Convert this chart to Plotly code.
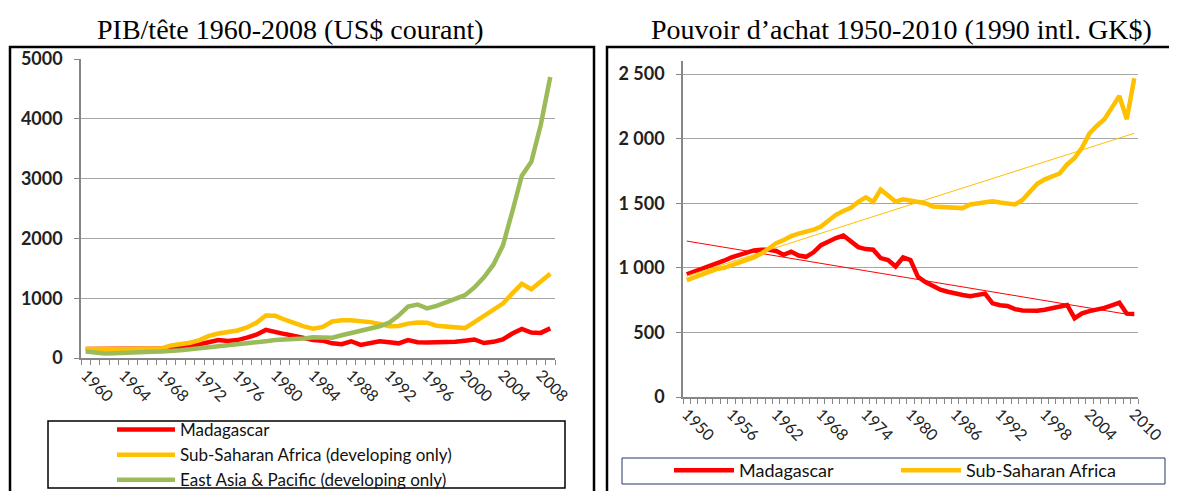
import numpy as np
import plotly.graph_objects as go

W, H = 1177, 491
OFF = 8  # default body margin of the page that write_html produces

# --- left panel: GDP per capita, current US$ (1960-2009)
years_gdp = list(range(1960, 2010))
madagascar_gdp = [
    150, 150, 145, 150, 145, 150, 150, 155, 160, 175,
    185, 200, 230, 260, 300, 285, 300, 340, 390, 470,
    430, 400, 370, 330, 300, 290, 245, 230, 280, 220,
    250, 280, 265, 245, 300, 265, 260, 260, 262, 270,
    290, 310, 250, 270, 310, 410, 485, 425, 420, 495,
]
ssa_gdp = [
    150, 145, 150, 150, 150, 155, 155, 160, 160, 210,
    230, 255, 300, 370, 410, 430, 460, 510, 590, 710,
    705, 640, 580, 530, 490, 520, 610, 630, 630, 620,
    600, 570, 530, 535, 575, 595, 590, 540, 525, 520,
    500, 600, 710, 810, 910, 1080, 1240, 1150, 1290, 1410,
]
eap_gdp = [
    110, 90, 75, 80, 90, 100, 105, 105, 110, 115,
    130, 145, 160, 180, 200, 215, 225, 235, 255, 280,
    300, 305, 310, 325, 345, 345, 340, 380, 420, 455,
    490, 530, 590, 710, 860, 895, 830, 870, 930, 1000,
    1050, 1180, 1350, 1560, 1880, 2450, 3050, 3280, 3900, 4700,
]
gdp_ticks = [0, 1000, 2000, 3000, 4000, 5000]
gdp_ticktext = ["0", "1000", "2000", "3000", "4000", "5000"]
gdp_year_labels = list(range(1960, 2009, 4))

# --- right panel: purchasing power, 1990 intl. GK$ (1950-2010)
years_ppp = list(range(1950, 2011))
madagascar_ppp = [
    950, 970, 990, 1010, 1030, 1055, 1080, 1100, 1115, 1135,
    1140, 1140, 1130, 1100, 1125, 1095, 1085, 1120, 1175, 1205,
    1230, 1250, 1210, 1160, 1145, 1140, 1075, 1060, 1010, 1080,
    1060, 930, 890, 860, 830, 815, 800, 790, 780, 790,
    800, 725, 710, 705, 680, 670, 668, 668, 675, 685,
    700, 712, 610, 648, 665, 675, 690, 710, 730, 645,
    642,
]
ssa_ppp = [
    905, 925, 950, 970, 990, 1000, 1020, 1040, 1055, 1080,
    1110, 1150, 1190, 1215, 1245, 1265, 1280, 1295, 1320, 1370,
    1410, 1440, 1465, 1510, 1545, 1510, 1605, 1560, 1512, 1530,
    1520, 1512, 1500, 1475, 1472, 1470, 1468, 1462, 1490, 1500,
    1510, 1515, 1505, 1495, 1490, 1525, 1590, 1650, 1685, 1710,
    1730, 1800, 1850, 1930, 2040, 2100, 2150, 2240, 2330, 2150,
    2467,
]
ppp_ticks = [0, 500, 1000, 1500, 2000, 2500]
ppp_ticktext = ["0", "500", "1 000", "1 500", "2 000", "2 500"]
ppp_year_labels = list(range(1950, 2011, 6))

RED = "#FF0000"
YELLOW = "#FFC000"
GREEN = "#9BBB59"
GRID = "#A6A6A6"
AXIS = "#868686"
FONT = "Lato"


def px_x(x):
    return (x - OFF) / W


def px_y(y):
    return 1 - (y - OFF) / H


fig = go.Figure()

for name, vals, color in [
    ("Madagascar", madagascar_gdp, RED),
    ("Sub-Saharan Africa (developing only)", ssa_gdp, YELLOW),
    ("East Asia & Pacific (developing only)", eap_gdp, GREEN),
]:
    fig.add_trace(go.Scatter(
        x=years_gdp, y=vals, name=name, mode="lines",
        line={"color": color, "width": 4.5},
        xaxis="x", yaxis="y", legend="legend",
    ))

for name, vals, color in [
    ("Madagascar", madagascar_ppp, RED),
    ("Sub-Saharan Africa", ssa_ppp, YELLOW),
]:
    fig.add_trace(go.Scatter(
        x=years_ppp, y=vals, name=name, mode="lines",
        line={"color": color, "width": 4.5},
        xaxis="x2", yaxis="y2", legend="legend2",
    ))
    # linear trendline, as in the Excel original
    slope, intercept = np.polyfit(years_ppp, vals, 1)
    trend = [slope * yr + intercept for yr in years_ppp]
    fig.add_trace(go.Scatter(
        x=years_ppp, y=trend, mode="lines", showlegend=False,
        line={"color": color, "width": 1},
        xaxis="x2", yaxis="y2",
    ))


def x_axis(domain, rng, labels, first):
    return {
        "domain": domain,
        "range": rng,
        "automargin": False,
        "tickmode": "array",
        "tickvals": labels,
        "ticktext": [str(v) for v in labels],
        "tickangle": 45,
        "ticks": "",
        "showgrid": False,
        "zeroline": False,
        "showline": True,
        "linecolor": AXIS,
        "linewidth": 1.5,
        "tickfont": {"family": FONT, "size": 16, "color": "#222"},
        "minor": {
            "tickmode": "linear",
            "tick0": first - 0.5,
            "dtick": 1,
            "ticks": "outside",
            "ticklen": 5,
            "tickcolor": AXIS,
            "showgrid": False,
        },
        "fixedrange": True,
    }


def y_axis(domain, rng, ticks, text, anchor):
    return {
        "domain": domain,
        "range": rng,
        "anchor": anchor,
        "automargin": False,
        "tickmode": "array",
        "tickvals": ticks,
        "ticktext": text,
        "ticks": "outside",
        "ticklen": 5,
        "tickcolor": AXIS,
        "ticklabelstandoff": 8,
        "showgrid": True,
        "gridcolor": GRID,
        "gridwidth": 1,
        "zeroline": False,
        "showline": True,
        "linecolor": AXIS,
        "linewidth": 1.5,
        "tickfont": {"family": FONT, "size": 18, "color": "#222", "weight": "bold"},
        "fixedrange": True,
    }


fig.update_layout(
    width=W,
    height=H,
    margin={"l": 0, "r": 0, "t": 0, "b": 0, "autoexpand": False},
    paper_bgcolor="white",
    plot_bgcolor="white",
    xaxis={**x_axis([px_x(81), px_x(555)], [1959.5, 2009.5], gdp_year_labels, 1960),
           "anchor": "y"},
    yaxis=y_axis([px_y(358), px_y(59)], [0, 5000], gdp_ticks, gdp_ticktext, "x"),
    xaxis2={**x_axis([px_x(683), px_x(1138)], [1949.5, 2010.5], ppp_year_labels, 1950),
            "anchor": "y2"},
    yaxis2=y_axis([px_y(397), px_y(61)], [0, 2500 * (397 - 61) / (397 - 74)],
                  ppp_ticks, ppp_ticktext, "x2"),
    legend={
        "x": px_x(112), "y": px_y(412), "xanchor": "left", "yanchor": "top",
        "bgcolor": "rgba(0,0,0,0)", "tracegroupgap": 0,
        "font": {"family": FONT, "size": 17, "color": "#111"},
        "itemwidth": 58,
    },
    legend2={
        "x": px_x(669), "y": px_y(452), "xanchor": "left", "yanchor": "top",
        "orientation": "h", "bgcolor": "rgba(0,0,0,0)",
        "entrywidth": 152, "entrywidthmode": "pixels",
        "font": {"family": FONT, "size": 18, "color": "#111"},
        "itemwidth": 60,
    },
    showlegend=True,
)

# panel frames and legend boxes
shapes = [
    ((10, 47, 594, 495), "black", 2.5),
    ((607, 47, 1175, 495), "black", 2.5),
    ((48, 421, 565, 488), "black", 1.5),
    ((622, 458, 1165, 484), "#1F3864", 1),
]
for (x0, y0, x1, y1), color, width in shapes:
    fig.add_shape(
        type="rect", xref="paper", yref="paper",
        x0=px_x(x0), y0=px_y(y0), x1=px_x(x1), y1=px_y(y1),
        line={"color": color, "width": width}, fillcolor="rgba(0,0,0,0)",
        layer="above",
    )

titles = [
    ("PIB/tête 1960-2008 (US$ courant)", 290),
    ("Pouvoir d’achat 1950-2010 (1990 intl. GK$)", 901),
]
for text, cx in titles:
    fig.add_annotation(
        text=text, xref="paper", yref="paper", x=px_x(cx), y=px_y(29),
        xanchor="center", yanchor="middle", showarrow=False,
        font={"family": "Liberation Serif", "size": 28, "color": "black"},
    )

fig.write_html("out.html")
